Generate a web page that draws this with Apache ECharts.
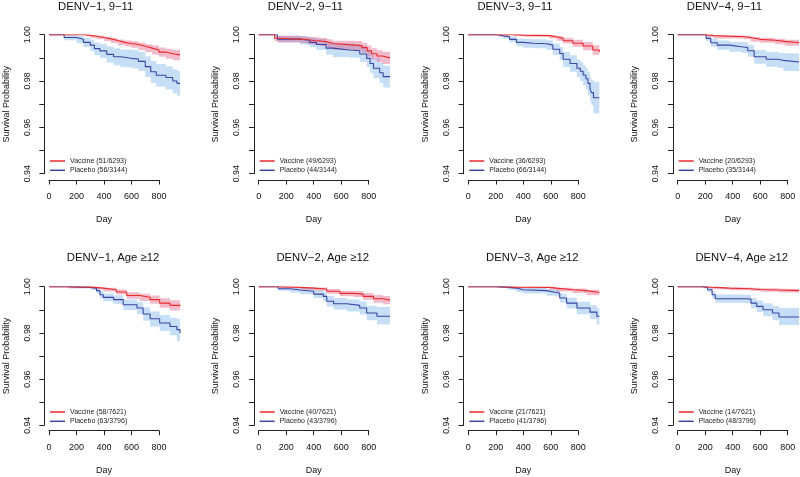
<!DOCTYPE html>
<html>
<head>
<meta charset="utf-8">
<script src="https://cdn.jsdelivr.net/npm/echarts@6/dist/echarts.min.js"></script>
<style>
html,body{margin:0;padding:0;background:#fff;}
#chart{width:800px;height:477px;}
</style>
</head>
<body>
<div id="chart"></div>
<script>
// ---- Data: rows are [day, survival, lower CI, upper CI] ----
const titles = ['DENV\u22121, 9\u221211','DENV\u22122, 9\u221211','DENV\u22123, 9\u221211','DENV\u22124, 9\u221211',
                'DENV\u22121, Age \u226512','DENV\u22122, Age \u226512','DENV\u22123, Age \u226512','DENV\u22124, Age \u226512'];
const vaccineLabels = ['Vaccine (51/6293)','Vaccine (49/6293)','Vaccine (36/6293)','Vaccine (20/6293)',
                       'Vaccine (58/7621)','Vaccine (40/7621)','Vaccine (21/7621)','Vaccine (14/7621)'];
const placeboLabels = ['Placebo (56/3144)','Placebo (44/3144)','Placebo (66/3144)','Placebo (35/3144)',
                       'Placebo (63/3796)','Placebo (43/3796)','Placebo (41/3796)','Placebo (48/3796)'];
const xTicks = [0,200,400,600,800];
const yTickLabels = [0.94,0.96,0.98,1.00];

const vac_d1_child = [[0,1,1,1],[260,0.9997,0.9993,1.0],[300,0.9993,0.9987,0.9998],[350,0.9988,0.9980,0.9995],[400,0.9982,0.9973,0.9991],[450,0.9975,0.9964,0.9986],[500,0.9967,0.9955,0.9979],[550,0.9962,0.9949,0.9975],[600,0.9958,0.9944,0.9972],[650,0.9950,0.9934,0.9966],[700,0.9942,0.9925,0.9959],[750,0.9934,0.9915,0.9953],[800,0.9925,0.9905,0.9945],[850,0.9918,0.9896,0.9939],[900,0.9913,0.9890,0.9935],[953,0.9912,0.9888,0.9934]];
const pla_d1_child = [[0,1,1,1],[110,0.9988,0.9976,1.0],[200,0.9980,0.9963,0.9995],[250,0.9967,0.9947,0.9987],[300,0.9955,0.9930,0.9978],[330,0.9940,0.9912,0.9966],[370,0.9930,0.9899,0.9960],[420,0.9915,0.9880,0.9949],[470,0.9905,0.9868,0.9941],[520,0.9898,0.9859,0.9936],[600,0.9895,0.9855,0.9934],[650,0.9885,0.9843,0.9926],[700,0.9862,0.9817,0.9906],[740,0.9840,0.9792,0.9886],[780,0.9825,0.9775,0.9873],[850,0.9815,0.9763,0.9864],[900,0.9800,0.9747,0.9851],[930,0.9790,0.9736,0.9843],[953,0.9790,0.9736,0.9843]];
const vac_d2_child = [[0,1,1,1],[115,0.9985,0.9972,1.0],[140,0.9981,0.9967,0.9995],[300,0.9979,0.9964,0.9993],[350,0.9975,0.9959,0.9990],[400,0.9973,0.9956,0.9989],[450,0.9969,0.9951,0.9986],[500,0.9962,0.9943,0.9980],[540,0.9955,0.9935,0.9974],[700,0.9953,0.9932,0.9973],[750,0.9944,0.9922,0.9965],[790,0.9930,0.9906,0.9953],[820,0.9918,0.9893,0.9942],[860,0.9908,0.9882,0.9933],[900,0.9900,0.9873,0.9926],[955,0.9898,0.9867,0.9929]];
const pla_d2_child = [[0,1,1,1],[136,0.9981,0.9966,0.9996],[300,0.9976,0.9958,0.9993],[370,0.9967,0.9946,0.9987],[420,0.9958,0.9934,0.9981],[490,0.9942,0.9914,0.9969],[540,0.9934,0.9904,0.9963],[660,0.9931,0.9900,0.9961],[735,0.9917,0.9883,0.9950],[785,0.9898,0.9861,0.9934],[810,0.9876,0.9836,0.9915],[835,0.9855,0.9812,0.9897],[880,0.9836,0.9791,0.9880],[905,0.9819,0.9772,0.9866],[955,0.9819,0.9764,0.9869]];
const vac_d3_child = [[0,1,1,1],[330,0.9998,0.9994,1.0],[400,0.9996,0.9991,1.0],[590,0.9991,0.9984,0.9998],[640,0.9984,0.9974,0.9994],[690,0.9974,0.9962,0.9987],[760,0.9963,0.9948,0.9978],[835,0.9951,0.9933,0.9968],[905,0.9934,0.9913,0.9955],[953,0.9925,0.9902,0.9948]];
const pla_d3_child = [[0,1,1,1],[218,0.9995,0.9989,1.0],[255,0.9991,0.9983,0.9999],[300,0.9980,0.9967,0.9993],[350,0.9967,0.9950,0.9984],[400,0.9963,0.9944,0.9981],[470,0.9961,0.9941,0.9980],[570,0.9955,0.9934,0.9976],[615,0.9937,0.9912,0.9962],[665,0.9919,0.9890,0.9947],[690,0.9894,0.9861,0.9926],[740,0.9876,0.9840,0.9911],[790,0.9855,0.9816,0.9893],[815,0.9842,0.9800,0.9882],[835,0.9826,0.9782,0.9868],[855,0.9810,0.9763,0.9855],[870,0.9790,0.9740,0.9838],[885,0.9768,0.9715,0.9820],[895,0.9750,0.9695,0.9805],[910,0.9728,0.9660,0.9797],[953,0.9728,0.9660,0.9797]];
const vac_d4_child = [[0,1,1,1],[223,0.9996,0.9991,1.0],[285,0.9991,0.9984,0.9998],[520,0.9988,0.9980,0.9996],[575,0.9980,0.9970,0.9990],[645,0.9976,0.9965,0.9987],[765,0.9971,0.9959,0.9983],[840,0.9965,0.9952,0.9978],[953,0.9963,0.9948,0.9976]];
const pla_d4_child = [[0,1,1,1],[223,0.9984,0.9972,0.9996],[260,0.9965,0.9948,0.9982],[310,0.9955,0.9935,0.9975],[405,0.9948,0.9926,0.9970],[500,0.9945,0.9922,0.9968],[550,0.9931,0.9905,0.9956],[600,0.9905,0.9875,0.9934],[695,0.9894,0.9862,0.9925],[790,0.9889,0.9856,0.9921],[830,0.9882,0.9843,0.9920],[953,0.9882,0.9840,0.9920]];
const vac_d1_adult = [[0,1,1,1],[140,0.9998,0.9995,1.0],[320,0.9994,0.9989,0.9999],[395,0.9987,0.9979,0.9995],[490,0.9977,0.9966,0.9988],[565,0.9962,0.9948,0.9976],[660,0.9954,0.9938,0.9970],[735,0.9944,0.9926,0.9962],[805,0.9929,0.9909,0.9950],[880,0.9919,0.9897,0.9941],[953,0.9915,0.9890,0.9939]];
const pla_d1_adult = [[0,1,1,1],[140,0.9997,0.9992,1.0],[300,0.9994,0.9987,1.0],[345,0.9983,0.9972,0.9994],[370,0.9965,0.9950,0.9980],[395,0.9954,0.9937,0.9971],[470,0.9944,0.9925,0.9963],[540,0.9922,0.9899,0.9945],[640,0.9908,0.9882,0.9934],[685,0.9882,0.9853,0.9911],[735,0.9861,0.9828,0.9893],[805,0.9843,0.9808,0.9878],[880,0.9828,0.9790,0.9866],[930,0.9814,0.9765,0.9860],[953,0.9800,0.9742,0.9861]];
const vac_d2_adult = [[0,1,1,1],[155,0.9997,0.9993,1.0],[300,0.9994,0.9988,0.9999],[400,0.9990,0.9982,0.9997],[495,0.9980,0.9970,0.9990],[590,0.9971,0.9959,0.9983],[690,0.9968,0.9955,0.9981],[760,0.9958,0.9943,0.9973],[835,0.9948,0.9931,0.9964],[905,0.9942,0.9924,0.9960],[955,0.9939,0.9920,0.9958]];
const pla_d2_adult = [[0,1,1,1],[143,0.9991,0.9982,1.0],[230,0.9986,0.9975,0.9997],[300,0.9980,0.9967,0.9993],[400,0.9968,0.9951,0.9985],[470,0.9958,0.9938,0.9978],[495,0.9937,0.9914,0.9961],[545,0.9926,0.9901,0.9951],[640,0.9919,0.9893,0.9945],[735,0.9908,0.9880,0.9936],[785,0.9886,0.9855,0.9917],[860,0.9872,0.9836,0.9912],[955,0.9872,0.9833,0.9912]];
const vac_d3_adult = [[0,1,1,1],[230,0.9998,0.9995,1.0],[350,0.9997,0.9993,1.0],[590,0.9994,0.9988,0.9999],[640,0.9987,0.9979,0.9995],[760,0.9983,0.9973,0.9992],[860,0.9975,0.9963,0.9987],[953,0.9973,0.9958,0.9987]];
const pla_d3_adult = [[0,1,1,1],[206,0.9998,0.9994,1.0],[280,0.9994,0.9987,1.0],[350,0.9987,0.9977,0.9997],[400,0.9983,0.9971,0.9995],[570,0.9975,0.9961,0.9990],[640,0.9973,0.9958,0.9988],[665,0.9951,0.9932,0.9971],[715,0.9929,0.9906,0.9952],[790,0.9908,0.9881,0.9935],[885,0.9890,0.9860,0.9920],[935,0.9872,0.9836,0.9907],[953,0.9872,0.9828,0.9905]];
const vac_d4_adult = [[0,1,1,1],[200,0.9998,0.9995,1.0],[260,0.9994,0.9989,0.9999],[405,0.9991,0.9985,0.9997],[575,0.9988,0.9981,0.9995],[645,0.9986,0.9978,0.9993],[795,0.9983,0.9975,0.9991],[953,0.9983,0.9975,0.9991]];
const pla_d4_adult = [[0,1,1,1],[200,0.9997,0.9992,1.0],[235,0.9987,0.9977,0.9997],[270,0.9965,0.9950,0.9980],[295,0.9948,0.9930,0.9966],[525,0.9947,0.9928,0.9965],[575,0.9929,0.9907,0.9951],[620,0.9915,0.9890,0.9940],[670,0.9900,0.9872,0.9928],[745,0.9886,0.9855,0.9916],[795,0.9869,0.9834,0.9908],[953,0.9869,0.9833,0.9908]];

const vaccineCurves = [vac_d1_child, vac_d2_child, vac_d3_child, vac_d4_child, vac_d1_adult, vac_d2_adult, vac_d3_adult, vac_d4_adult];
const placeboCurves = [pla_d1_child, pla_d2_child, pla_d3_child, pla_d4_child, pla_d1_adult, pla_d2_adult, pla_d3_adult, pla_d4_adult];

// ---- Layout / style ----
const FONT = 'Liberation Sans, Arial, sans-serif';
const colX = [49, 258.7, 468.3, 677.7];
const rowTop = [34.7, 286.7];
const rowH = [139, 138.6];
const xOff = [6.3, 5.4];
const AXIS_W = 110;          // pixels for days 0..800
const DATA_MAX = 960;        // data grid spans days 0..960
const titleY = [6.5, 258];
const titleDX = [46.7, 64];
const legendTop = [156.5, 407.5];
const RED = '#ec2a2a', BLUE = '#3a46a3';
const RED_BAND = 'rgba(215,50,100,0.33)', BLUE_BAND = 'rgba(98,166,229,0.36)';
const AX = '#222';

function bandRender(params, api) {
  if (params.dataIndexInside !== 0) return null;
  const n = params.dataInsideLength;
  const up = [], lo = [];
  for (let k = 0; k < n; k++) {
    const x = api.value(0, k), l = api.value(1, k), h = api.value(2, k);
    up.push(api.coord([x, h])); lo.push(api.coord([x, l]));
    if (k < n - 1) {
      const nx = api.value(0, k + 1);
      up.push(api.coord([nx, h])); lo.push(api.coord([nx, l]));
    }
  }
  return {type: 'polygon', shape: {points: up.concat(lo.reverse())},
          style: {fill: api.visual('color'), stroke: null}};
}

const grids = [], xAxes = [], yAxes = [], series = [], legends = [], graphics = [];
for (let i = 0; i < 8; i++) {
  const r = Math.floor(i / 4), c = i % 4;
  // axis-only grid (R-style axes spanning 0..800 and 0.94..1.00)
  grids.push({left: colX[c], top: rowTop[r], width: AXIS_W, height: rowH[r]});
  // data grid, same scale, wider to hold data past day 800
  grids.push({left: colX[c], top: rowTop[r], width: AXIS_W * DATA_MAX / 800, height: rowH[r]});
  xAxes.push({
    gridIndex: 2 * i, type: 'value', min: xTicks[0], max: xTicks[xTicks.length - 1], interval: 200,
    offset: xOff[r],
    axisLine: {show: true, onZero: false, lineStyle: {color: AX, width: 1}},
    axisTick: {show: true, length: 4.5, lineStyle: {color: AX, width: 1}},
    axisLabel: {fontSize: 9, margin: 12, color: '#111', fontFamily: FONT},
    splitLine: {show: false},
    name: 'Day', nameLocation: 'middle', nameGap: 35.5,
    nameTextStyle: {fontSize: 9, color: '#111', fontFamily: FONT}
  });
  xAxes.push({gridIndex: 2 * i + 1, type: 'value', min: 0, max: DATA_MAX, show: false, splitLine: {show: false}});
  yAxes.push({
    gridIndex: 2 * i, type: 'value', min: 0.94, max: 1.0, interval: 0.01,
    offset: 4.7,
    axisLine: {show: true, onZero: false, lineStyle: {color: AX, width: 1}},
    axisTick: {show: true, length: 5, lineStyle: {color: AX, width: 1}},
    axisLabel: {
      fontSize: 8.8, margin: 12.5, rotate: 90, color: '#111', fontFamily: FONT,
      formatter: v => yTickLabels.some(t => Math.abs(t - v) < 1e-6) ? v.toFixed(2) : ''
    },
    splitLine: {show: false},
    name: 'Survival Probability', nameLocation: 'middle', nameGap: 33.5,
    nameTextStyle: {fontSize: 9, color: '#111', fontFamily: FONT}
  });
  yAxes.push({gridIndex: 2 * i + 1, type: 'value', min: 0.94, max: 1.0, show: false, splitLine: {show: false}});

  const ax = 2 * i + 1;
  const arms = [
    {rows: placeboCurves[i], band: BLUE_BAND, line: BLUE, name: placeboLabels[i]},
    {rows: vaccineCurves[i], band: RED_BAND, line: RED, name: vaccineLabels[i]}
  ];
  arms.forEach(a => {
    series.push({
      type: 'custom', name: 'ci ' + a.name, xAxisIndex: ax, yAxisIndex: ax, silent: true, z: 1,
      itemStyle: {color: a.band}, encode: {x: 0, y: [1, 2]},
      renderItem: bandRender, data: a.rows.map(d => [d[0], d[2], d[3]])
    });
  });
  arms.forEach(a => {
    series.push({
      type: 'line', name: a.name, xAxisIndex: ax, yAxisIndex: ax,
      step: 'end', symbol: 'none', showSymbol: false, z: 3, color: a.line,
      itemStyle: {color: a.line},
      lineStyle: {color: a.line, width: 1.1}, data: a.rows.map(d => [d[0], d[1]])
    });
  });

  legends.push({
    orient: 'vertical', left: colX[c] + 1, top: legendTop[r], padding: 0, itemGap: 0.3,
    icon: 'rect', itemWidth: 15, itemHeight: 1.5, selectedMode: false,
    textStyle: {fontSize: 7, lineHeight: 9, color: '#222', fontFamily: FONT},
    data: [vaccineLabels[i], placeboLabels[i]]
  });

  graphics.push({
    type: 'text', x: colX[c] + titleDX[r], y: titleY[r],
    style: {text: titles[i], fill: '#111', font: '11.3px ' + FONT, textAlign: 'center', textVerticalAlign: 'middle'}
  });
}

const chart = echarts.init(document.getElementById('chart'), null, {renderer: 'canvas'});
chart.setOption({
  animation: false,
  backgroundColor: '#fff',
  grid: grids, xAxis: xAxes, yAxis: yAxes, series: series,
  legend: legends, graphic: graphics
});
</script>
</body>
</html>
